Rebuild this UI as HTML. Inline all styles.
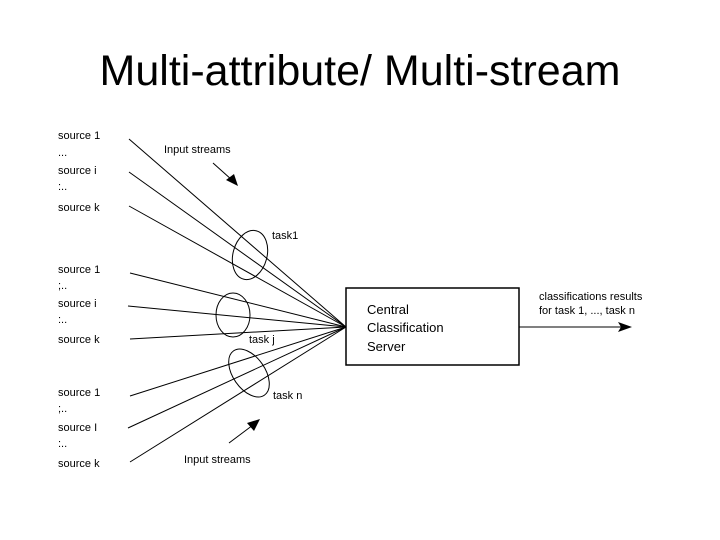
<!DOCTYPE html>
<html><head><style>
html,body{margin:0;padding:0;background:#fff;}
</style></head><body>
<svg width="720" height="540" xmlns="http://www.w3.org/2000/svg" style="display:block">
<rect width="720" height="540" fill="#fff"/>
<text x="360" y="85" text-anchor="middle" font-family="Liberation Sans, sans-serif" font-size="43">Multi-attribute/ Multi-stream</text>
<g font-family="Liberation Sans, sans-serif" font-size="11" fill="#000">
<text x="58" y="139">source 1</text><text x="58" y="156">...</text>
<text x="58" y="174">source i</text><text x="58" y="190">:..</text>
<text x="58" y="211">source k</text>
<text x="58" y="273">source 1</text><text x="58" y="289">;..</text>
<text x="58" y="307">source i</text><text x="58" y="323">:..</text>
<text x="58" y="343">source k</text>
<text x="58" y="396">source 1</text><text x="58" y="412">;..</text>
<text x="58" y="431">source I</text><text x="58" y="447">:..</text>
<text x="58" y="467">source k</text>
<text x="164" y="153">Input streams</text>
<text x="184" y="463">Input streams</text>
<text x="272" y="239">task1</text>
<text x="249" y="343">task j</text>
<text x="273" y="399">task n</text>
<text x="539" y="300">classifications results</text>
<text x="539" y="314">for task 1, ..., task n</text>
</g>
<g font-family="Liberation Sans, sans-serif" font-size="13">
<text x="367" y="314">Central</text>
<text x="367" y="332">Classification</text>
<text x="367" y="351">Server</text>
</g>
<g stroke="#000" stroke-width="1" fill="none">
<line x1="129" y1="139" x2="346" y2="327"/>
<line x1="129" y1="172" x2="346" y2="327"/>
<line x1="129" y1="206" x2="346" y2="327"/>
<line x1="130" y1="273" x2="346" y2="327"/>
<line x1="128" y1="306" x2="346" y2="327"/>
<line x1="130" y1="339" x2="346" y2="327"/>
<line x1="130" y1="396" x2="346" y2="327"/>
<line x1="128" y1="428" x2="346" y2="327"/>
<line x1="130" y1="462" x2="346" y2="327"/>
<ellipse cx="250" cy="255" rx="17" ry="25" transform="rotate(15 250 255)"/>
<ellipse cx="233" cy="315" rx="17" ry="22"/>
<ellipse cx="249" cy="373" rx="16" ry="27" transform="rotate(-35 249 373)"/>
<rect x="346" y="288" width="173" height="77" stroke-width="1.5"/>
<line x1="519" y1="327" x2="624" y2="327"/>
<line x1="213" y1="163" x2="232" y2="180"/>
<line x1="229" y1="443" x2="253" y2="425"/>
</g>
<polygon points="632,327 618,322 621,327 618,332" fill="#000"/>
<polygon points="238,186 226,180 234,174" fill="#000"/>
<polygon points="260,419 254,431 247,423" fill="#000"/>
</svg>
</body></html>
